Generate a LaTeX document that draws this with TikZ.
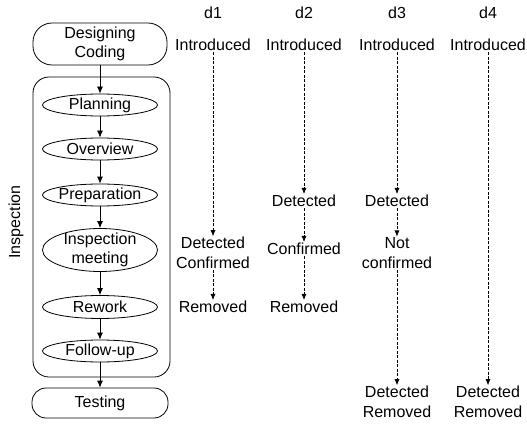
\documentclass[tikz,border=0pt]{standalone}
\usepackage{fontspec}
\setmainfont{Liberation Sans}
\usetikzlibrary{arrows.meta,shapes.geometric}
\begin{document}
\begin{tikzpicture}[x=1pt,y=-1pt,
  every node/.style={font=\fontsize{16}{19.5}\selectfont, align=center, inner sep=1pt},
  phase/.style={draw, line width=0.8pt, minimum width=134pt},
  act/.style={draw, ellipse, line width=0.8pt, minimum width=115pt, minimum height=22pt, inner sep=0pt},
  flow/.style={-{Latex[length=7pt,width=6pt]}, line width=0.8pt},
  trace/.style={-{Latex[length=6pt,width=5pt]}, line width=0.6pt, dash pattern=on 3pt off 1.5pt}
]
\useasboundingbox (0,0) rectangle (527,425);

% process column
\node[phase, rounded corners=19pt, minimum height=42pt] (des) at (100,44) {Designing\\Coding};
\node[draw, line width=0.8pt, rounded corners=16pt, minimum width=137pt, minimum height=300pt] (insp) at (101.5,227) {};
\node[rotate=90] (inspT) at (16,222) {Inspection};

\node[act] (plan) at (100,105) {};
\node (planT) at (plan) {Planning};
\node[act] (over) at (100,149) {};
\node (overT) at (over) {Overview};
\node[act] (prep) at (100,195) {};
\node (prepT) at (prep) {Preparation};
\node[act, minimum height=43pt] (meet) at (100,250) {};
\node (meetT) at (meet) {Inspection\\meeting};
\node[act, minimum height=23pt] (rew) at (100,307) {};
\node (rewT) at (rew) {Rework};
\node[act] (fol) at (100,351) {};
\node (folT) at (fol) {Follow-up};
\node[phase, rounded corners=14pt, minimum width=136pt, minimum height=30pt] (test) at (100,403) {Testing};

\draw[flow] (des) -- (plan);
\draw[flow] (plan) -- (over);
\draw[flow] (over) -- (prep);
\draw[flow] (prep) -- (meet);
\draw[flow] (meet) -- (rew);
\draw[flow] (rew) -- (fol);
\draw[flow] (fol) -- (test);

% defect columns
\node (h1) at (213,13) {d1};
\node (h2) at (304,13) {d2};
\node (h3) at (397,13) {d3};
\node (h4) at (488,13) {d4};

\node (i1) at (213,45) {Introduced};
\node (i2) at (304,45) {Introduced};
\node (i3) at (397,45) {Introduced};
\node (i4) at (488,45) {Introduced};

\node (dc1) at (213,253) {Detected\\Confirmed};
\node (r1) at (213,307) {Removed};

\node (de2) at (304,201) {Detected};
\node (c2) at (304,249) {Confirmed};
\node (r2) at (304,307) {Removed};

\node (de3) at (397,201) {Detected};
\node (nc3) at (397,253) {Not\\confirmed};
\node (dr3) at (397,402) {Detected\\Removed};

\node (dr4) at (488,402) {Detected\\Removed};

\draw[trace] (i1) -- (dc1);
\draw[trace] (dc1) -- (r1);
\draw[trace] (i2) -- (de2);
\draw[trace] (de2) -- (c2);
\draw[trace] (c2) -- (r2);
\draw[trace] (i3) -- (de3);
\draw[trace] (de3) -- (nc3);
\draw[trace] (nc3) -- (dr3);
\draw[trace] (i4) -- (dr4);
\end{tikzpicture}
\end{document}
